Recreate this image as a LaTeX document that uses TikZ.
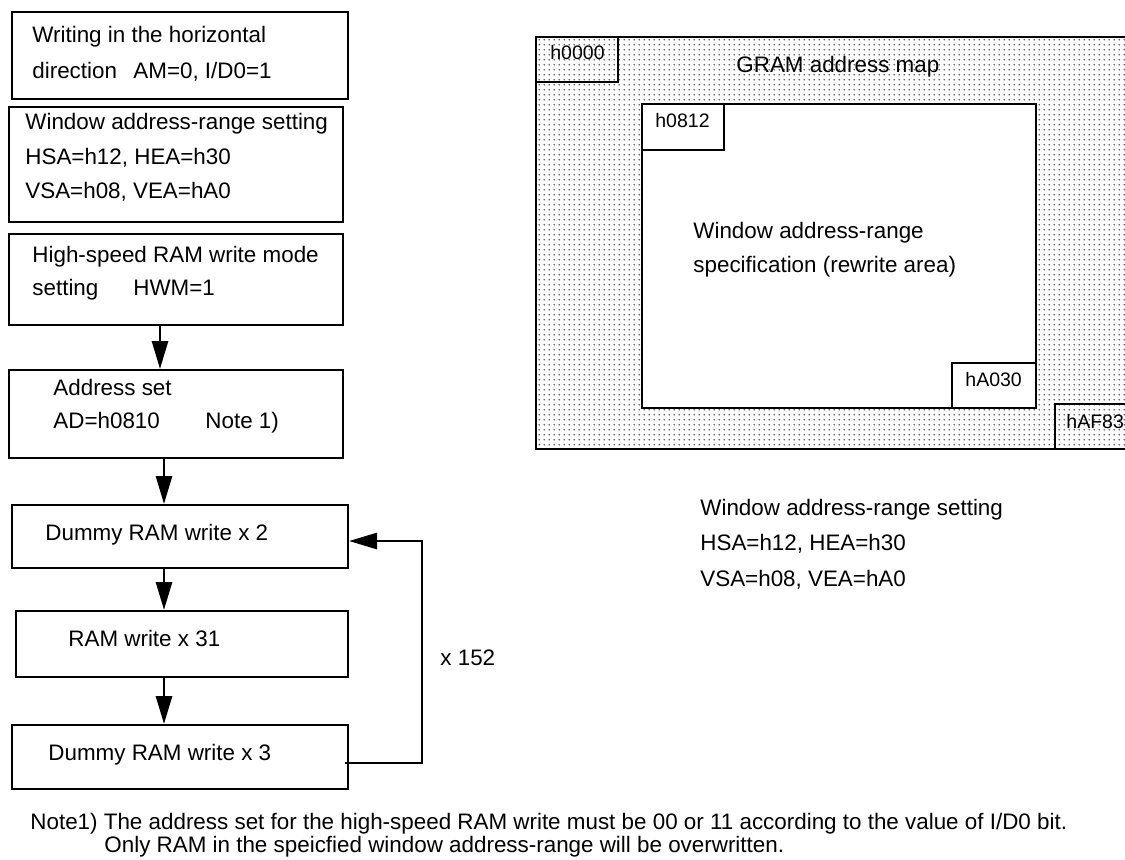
\documentclass[tikz,border=0pt]{standalone}
\usepackage{fontspec}
\setmainfont{Liberation Sans}
\usetikzlibrary{arrows.meta,patterns.meta}
\tikzdeclarepattern{
  name=gdots,
  type=uncolored,
  bounding box={(0pt,0pt) and (2.4pt,2.4pt)},
  tile size={(2.4pt,2.4pt)},
  code={\fill (1.2pt,1.2pt) circle (0.45pt);}
}
\begin{document}
\begin{tikzpicture}[x=0.5pt,y=-0.5pt,
  box/.style={draw, line width=1pt, inner sep=0pt},
  txt/.style={inner sep=0pt, anchor=base west, font=\fontsize{11.2}{13}\selectfont},
  lbl/.style={inner sep=0pt, anchor=base west, font=\fontsize{9.75}{11}\selectfont},
  arr/.style={line width=1.4pt, -{Triangle[length=14pt,width=8pt]}},
  ln/.style={line width=1pt}]
\useasboundingbox (0,0) rectangle (1125,859);

% ---------- flow chart boxes ----------
\node[box, minimum width=168pt, minimum height=43.5pt] (b1) at (180,55.5) {};
\node[box, minimum width=167pt, minimum height=57.5pt] (b2) at (176,164.5) {};
\node[box, minimum width=167pt, minimum height=45.5pt] (b3) at (176,279.5) {};
\node[box, minimum width=167pt, minimum height=44pt] (b4) at (176,414) {};
\node[box, minimum width=168pt, minimum height=31.5pt] (b5) at (180,536.5) {};
\node[box, minimum width=166pt, minimum height=33pt] (b6) at (182,644) {};
\node[box, minimum width=168pt, minimum height=32pt] (b7) at (180,757) {};

\node[txt] (t1a) at (32,42) {Writing in the horizontal};
\node[txt] (t1b) at (32,78) {direction};
\node[txt] (t1c) at (133,78) {AM=0, I/D0=1};
\node[txt] (t2a) at (25,129) {Window address-range setting};
\node[txt] (t2b) at (25,164) {HSA=h12, HEA=h30};
\node[txt] (t2c) at (25,198) {VSA=h08, VEA=hA0};
\node[txt] (t3a) at (32,262) {High-speed RAM write mode};
\node[txt] (t3b) at (32,295) {setting};
\node[txt] (t3c) at (133,295) {HWM=1};
\node[txt] (t4a) at (53,395) {Address set};
\node[txt] (t4b) at (53,428) {AD=h0810};
\node[txt] (t4c) at (205,428) {Note 1)};
\node[txt] (t5) at (45,540) {Dummy RAM write x 2};
\node[txt] (t6) at (68,646) {RAM write x 31};
\node[txt] (t7) at (48,760) {Dummy RAM write x 3};
\node[txt] (tx) at (440,665) {x 152};

% ---------- connectors ----------
\coordinate (xa) at (160,0);
\coordinate (xb) at (164,0);
\draw[arr] (b3.south -| xa) -- (b4.north -| xa);
\draw[arr] (b4.south -| xb) -- (b5.north -| xb);
\draw[arr] (b5.south -| xb) -- (b6.north -| xb);
\draw[arr] (b6.south -| xb) -- (b7.north -| xb);
\coordinate (c1) at (422,763);
\coordinate (c2) at (422,541);
\draw[arr] ([xshift=-2pt]b7.east |- c1) -- (c1) -- (c2) -- (b5.east |- c2);

% ---------- GRAM address map ----------
\fill[pattern=gdots, pattern color=black!65] (536,37) rectangle (1125,449);
\draw[ln] (1125,37) -- (536,37) -- (536,449) -- (1125,449);
\node[box, minimum width=41pt, minimum height=22.5pt] (h0) at (577,59.5) {};
\node[box, fill=white, minimum width=197pt, minimum height=152pt] (win) at (839,256) {};
\node[box, fill=white, minimum width=41pt, minimum height=23pt] (h1) at (683,127) {};
\node[box, fill=white, minimum width=42pt, minimum height=22.5pt] (h2) at (994,385.5) {};
\coordinate (h3a) at (1125,404);
\coordinate (h3b) at (1055,404);
\coordinate (h3c) at (1055,449);
\draw[ln] (h3a) -- (h3b) -- (h3c);

\node[txt] (gram) at (736,72) {GRAM address map};
\node[txt] (w1) at (693,238) {Window address-range};
\node[txt] (w2) at (693,272) {specification (rewrite area)};
\node[lbl] (l0) at (550,59) {h0000};
\node[lbl] (l1) at (655,127) {h0812};
\node[lbl] (l2) at (965,386) {hA030};
\node[lbl] (l3) at (1066,428) {hAF83};

\node[txt] (r1) at (700,515) {Window address-range setting};
\node[txt] (r2) at (700,550) {HSA=h12, HEA=h30};
\node[txt] (r3) at (700,586) {VSA=h08, VEA=hA0};

% ---------- note ----------
\node[txt] (n1) at (30,829) {Note1) The address set for the high-speed RAM write must be 00 or 11 according to the value of I/D0 bit.};
\node[txt] (n2) at (104,852) {Only RAM in the speicfied window address-range will be overwritten.};
\end{tikzpicture}
\end{document}
